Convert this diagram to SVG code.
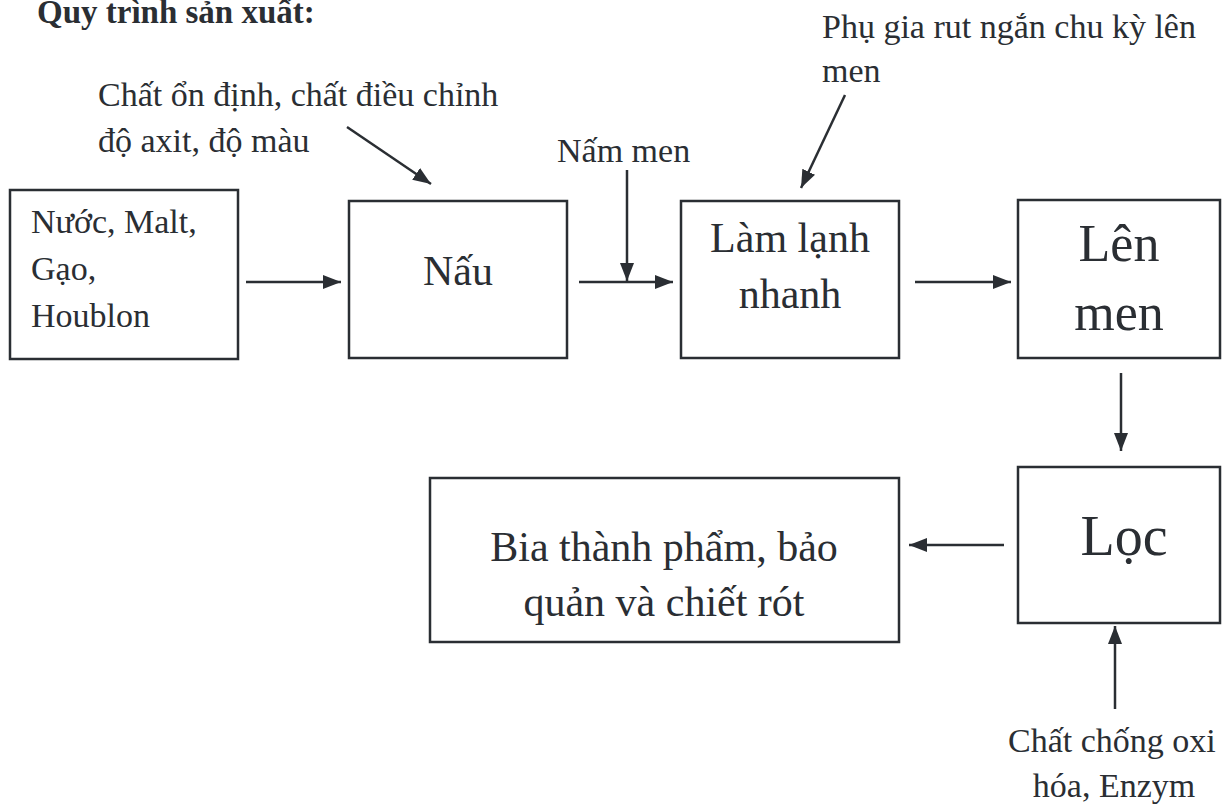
<svg xmlns="http://www.w3.org/2000/svg" width="1229" height="806" viewBox="0 0 1229 806">
<defs>
<marker id="ah" markerUnits="userSpaceOnUse" markerWidth="20" markerHeight="16" refX="18" refY="7" orient="auto">
<path d="M0,0 L18,7 L0,14 Z" fill="#2a2e33"/>
</marker>
<style>
.box{fill:#fff;stroke:#2a2e33;stroke-width:2.5}
.ln{fill:none;stroke:#2a2e33;stroke-width:2.5;marker-end:url(#ah)}
text{font-family:"Liberation Serif","Times New Roman",serif;fill:#2a2e33}
.c{text-anchor:middle}
.a{font-size:34px}
</style>
</defs>
<rect width="1229" height="806" fill="#fff"/>
<text x="37" y="23" font-size="33" font-weight="bold">Quy trình sản xuất:</text>
<g id="labels">
<text class="a" x="98" y="106">Chất ổn định, chất điều chỉnh</text>
<text class="a" x="98" y="152">độ axit, độ màu</text>
<text class="a" x="822" y="38">Phụ gia rut ngắn chu kỳ lên</text>
<text class="a" x="822" y="82">men</text>
<text class="a" x="557" y="162">Nấm men</text>
<text class="a" x="1008" y="752">Chất chống oxi</text>
<text class="a c" x="1114" y="797">hóa, Enzym</text>
</g>
<g id="n1">
<rect class="box" x="10" y="190" width="228" height="169"/>
<text class="a" x="31" y="233">Nước, Malt,</text>
<text class="a" x="31" y="280">Gạo,</text>
<text class="a" x="31" y="327">Houblon</text>
</g>
<g id="n2">
<rect class="box" x="349" y="201" width="218" height="157"/>
<text x="458" y="285" font-size="42" class="c">Nấu</text>
</g>
<g id="n3">
<rect class="box" x="681" y="201" width="218" height="157"/>
<text x="790" y="252" font-size="42" class="c">Làm lạnh</text>
<text x="790" y="308" font-size="42" class="c">nhanh</text>
</g>
<g id="n4">
<rect class="box" x="1018" y="200" width="202" height="158"/>
<text x="1119" y="261" font-size="52" class="c">Lên</text>
<text x="1119" y="330" font-size="52" class="c">men</text>
</g>
<g id="n5">
<rect class="box" x="1018" y="467" width="202" height="156"/>
<text x="1124" y="555" font-size="56" class="c">Lọc</text>
</g>
<g id="n6">
<rect class="box" x="430" y="478" width="469" height="164"/>
<text x="664" y="561" font-size="42" class="c">Bia thành phẩm, bảo</text>
<text x="664" y="616" font-size="42" class="c">quản và chiết rót</text>
</g>
<g id="connectors">
<line class="ln" x1="246" y1="282" x2="341" y2="282"/>
<line class="ln" x1="579" y1="282" x2="673" y2="282"/>
<line class="ln" x1="627" y1="170" x2="627" y2="281"/>
<line class="ln" x1="915" y1="282" x2="1011" y2="282"/>
<line class="ln" x1="1121" y1="373" x2="1121" y2="451"/>
<line class="ln" x1="1004" y1="545" x2="909" y2="545"/>
<line class="ln" x1="1115" y1="709" x2="1115" y2="626"/>
<line class="ln" x1="347" y1="127" x2="431" y2="184"/>
<line class="ln" x1="845" y1="95" x2="801" y2="188"/>
</g>
</svg>
